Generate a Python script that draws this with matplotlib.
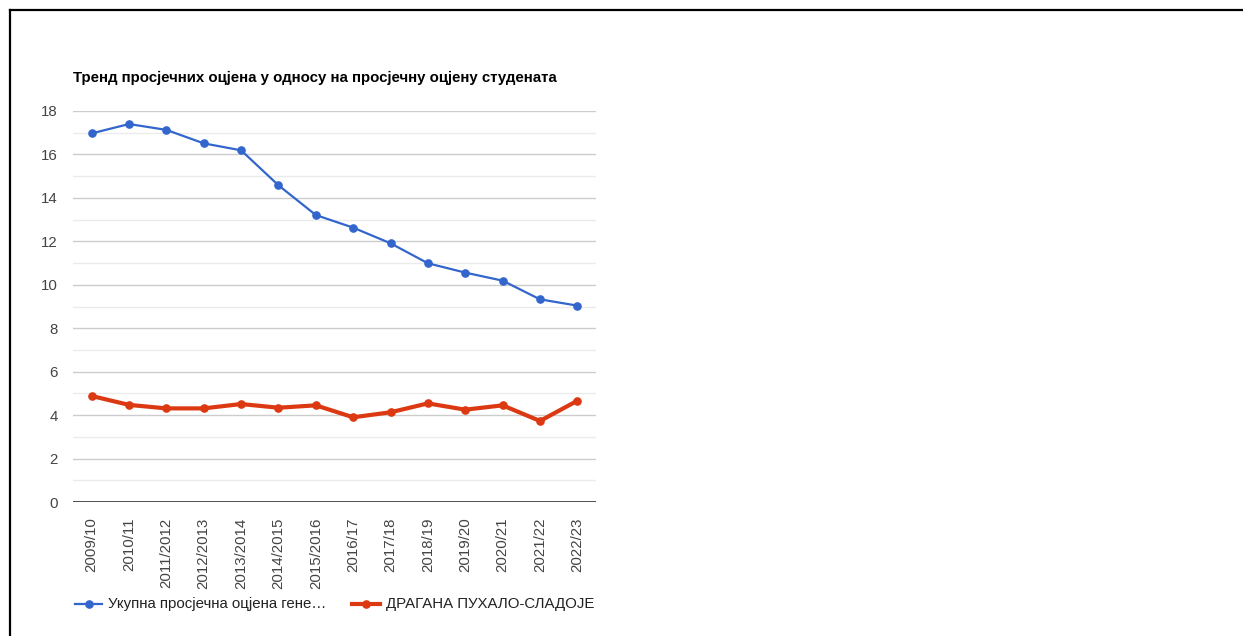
import matplotlib.pyplot as plt
from matplotlib.lines import Line2D

# academic years on the x axis
YEARS = ["2009/10", "2010/11", "2011/2012", "2012/2013", "2013/2014",
         "2014/2015", "2015/2016", "2016/17", "2017/18", "2018/19",
         "2019/20", "2020/21", "2021/22", "2022/23"]
# overall average grade of the generation
OVERALL = [16.97, 17.40, 17.13, 16.51, 16.19, 14.58, 13.21, 12.63,
           11.91, 10.99, 10.56, 10.19, 9.33, 9.04]
# teacher's average grade
TEACHER = [4.88, 4.47, 4.31, 4.31, 4.51, 4.34, 4.45, 3.90,
           4.13, 4.54, 4.25, 4.45, 3.73, 4.66]

TITLE = "Тренд просјечних оцјена у односу на просјечну оцјену студената"
LABEL_OVERALL = "Укупна просјечна оцјена гене…"
LABEL_TEACHER = "ДРАГАНА ПУХАЛО-СЛАДОЈЕ"

BLUE = "#3366cc"
RED = "#dc3912"
FS = 10.8

plt.rcParams['font.family'] = ['Liberation Sans', 'DejaVu Sans']

W, H = 1243, 636
fig = plt.figure(figsize=(W / 100, H / 100), dpi=100)
ax = fig.add_axes([73 / W, 1 - 502 / H, (596 - 73) / W, (502 - 111) / H])

x = list(range(len(YEARS)))
ax.plot(x, OVERALL, color=BLUE, lw=1.6, marker="o", ms=5.2, zorder=3)
ax.plot(x, TEACHER, color=RED, lw=3.0, marker="o", ms=5.2, zorder=3)

ax.set_xlim(-0.5, len(YEARS) - 0.5)
ax.set_ylim(0, 18)
ax.set_yticks(range(0, 19, 2))
ax.set_yticks(range(1, 18, 2), minor=True)
ax.grid(axis="y", which="major", color="#cccccc", lw=1)
ax.grid(axis="y", which="minor", color="#ebebeb", lw=1)
ax.set_axisbelow(True)
ax.axhline(0, color="#333333", lw=1.2, zorder=2)

for s in ax.spines.values():
    s.set_visible(False)

ax.set_xticks(x)
ax.set_xticklabels(YEARS, rotation=90, va="top", ha="center")
ax.tick_params(axis="both", which="both", length=0, labelsize=FS,
               labelcolor="#444444")
ax.tick_params(axis="x", pad=11)
ax.tick_params(axis="y", pad=11)

fig.text(73 / W, 1 - 78 / H, TITLE, fontsize=FS, fontweight="bold",
         color="#000000", va="center", ha="left")

# legend drawn by hand
ly = 1 - 604 / H
fig.add_artist(Line2D([75 / W, 102 / W], [ly, ly], color=BLUE, lw=1.6,
                      transform=fig.transFigure))
fig.add_artist(Line2D([88.5 / W], [ly], color=BLUE, marker="o", ms=5.2,
                      transform=fig.transFigure))
fig.text(108 / W, ly, LABEL_OVERALL, fontsize=FS, color="#222222",
         va="center", ha="left")
fig.add_artist(Line2D([352 / W, 380 / W], [ly, ly], color=RED, lw=3.0,
                      transform=fig.transFigure))
fig.add_artist(Line2D([366 / W], [ly], color=RED, marker="o", ms=5.2,
                      transform=fig.transFigure))
fig.text(386 / W, ly, LABEL_TEACHER, fontsize=FS, color="#222222",
         va="center", ha="left")

# page border (top and left edges)
fig.add_artist(Line2D([10 / W, 1], [1 - 10 / H, 1 - 10 / H], color="black",
                      lw=1.6, transform=fig.transFigure))
fig.add_artist(Line2D([10 / W, 10 / W], [0, 1 - 10 / H], color="black",
                      lw=1.6, transform=fig.transFigure))

fig.savefig("out.png", dpi=100)
